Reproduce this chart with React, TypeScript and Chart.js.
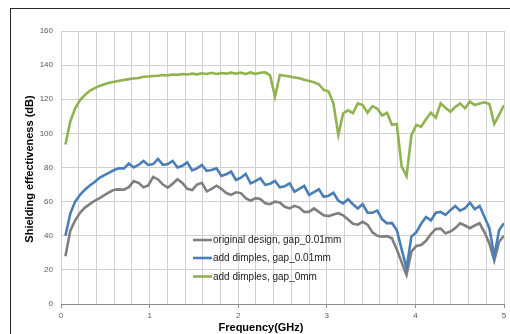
import React, { useEffect, useRef } from "react";
import { Chart, registerables } from "chart.js";

Chart.register(...registerables);

const frequencyGHz = [
  0.05, 0.105, 0.16, 0.215, 0.27, 0.325, 0.38, 0.435, 0.49, 0.545,
  0.6, 0.655, 0.71, 0.765, 0.82, 0.875, 0.93, 0.985, 1.04, 1.095,
  1.15, 1.205, 1.26, 1.315, 1.37, 1.425, 1.48, 1.535, 1.59, 1.645,
  1.7, 1.755, 1.81, 1.865, 1.92, 1.975, 2.03, 2.085, 2.14, 2.195,
  2.25, 2.305, 2.36, 2.415, 2.47, 2.525, 2.58, 2.635, 2.69, 2.745,
  2.8, 2.855, 2.91, 2.965, 3.02, 3.075, 3.13, 3.185, 3.24, 3.295,
  3.35, 3.405, 3.46, 3.515, 3.57, 3.625, 3.68, 3.735, 3.79, 3.845,
  3.9, 3.955, 4.01, 4.065, 4.12, 4.175, 4.23, 4.285, 4.34, 4.395,
  4.45, 4.505, 4.56, 4.615, 4.67, 4.725, 4.78, 4.835, 4.89, 4.945,
  5.0,
];

const originalGap001 = [
  28, 43, 49, 53.5, 56.5, 58.5, 60.5, 62, 63.8, 65.5,
  67, 67.2, 67, 68.5, 72, 71, 68.4, 69.5, 74.5, 73,
  70, 68.2, 70.5, 73.1, 71, 67.5, 66.8, 70, 71, 66,
  67.5, 69.3, 67.5, 65, 64, 65.5, 65, 62, 60.5, 62,
  61.5, 59, 58.5, 60, 59.5, 57, 56, 57.5, 56.5, 54,
  54, 56, 54, 52, 51.5, 52.5, 53.2, 52, 49.5, 47,
  46.5, 48.2, 46.5, 42, 40, 39.5, 39.8, 38.5, 32, 24.5,
  17, 30.7, 34, 34.6, 37, 41, 44, 44.2, 41.4, 42.5,
  44.5, 47.3, 46, 44.4, 46, 47.3, 42, 35.5, 25.5, 36.5,
  40,
];

const dimplesGap001 = [
  40, 53, 60, 64, 67, 69.5, 71.5, 74, 75.5, 77,
  78.5, 79.5, 79.5, 82.3, 80, 81.5, 83.8, 81.5, 82, 85,
  81.5, 82, 83.8, 80, 81, 83, 78.3, 79.5, 81.5, 78,
  78.5, 79.5, 75, 76, 77.6, 72.7, 74, 76.2, 70.7, 72,
  73.7, 69.8, 70.5, 72.1, 68.4, 69, 70.7, 65.8, 67.5, 69.2,
  63.9, 65.5, 67.2, 62.9, 63.5, 65.2, 60.5, 59, 61.4, 58.5,
  56, 58.6, 53.5, 53.5, 54.7, 49.6, 47.3, 47.5, 43.4, 32,
  21, 39.5, 42, 47, 51, 49, 53.5, 54, 52.2, 55,
  57.4, 54.7, 56.1, 59.4, 55.5, 57.5, 51, 44.4, 28, 43.4,
  47.3,
];

const dimplesGap0 = [
  93.5, 107, 114.7, 119.5, 122.5, 125, 126.5, 127.8, 128.8, 129.7,
  130.3, 130.8, 131.3, 131.8, 132.2, 132.5, 133.2, 133.3, 133.6, 133.8,
  134.2, 134, 134.5, 134.3, 134.8, 134.5, 135, 134.6, 135.2, 134.8,
  135.5, 134.8, 135.4, 135, 135.6, 135, 135.6, 134.8, 135.7, 134.8,
  135.5, 135.8, 134, 121.5, 134.2, 133.8, 133.3, 132.8, 132.3, 131.5,
  130.7, 130, 128.8, 125.5, 124.5, 117.6, 99, 111.8, 113.5, 111.8,
  117.6, 116.6, 112.1, 116, 114.5, 110.5, 112, 105, 105.5, 80.5,
  75, 99, 104.9, 103.9, 108.3, 112.1, 109.2, 117.6, 115, 112.7,
  115.5, 117.6, 114.7, 118.6, 116.6, 117.5, 118.2, 117.2, 105.5, 110.8,
  116.6,
];

const seriesLabels = [
  "original design, gap_0.01mm",
  "add dimples, gap_0.01mm",
  "add dimples, gap_0mm",
];
const seriesColors = ["#7f7f7f", "#4a7ebb", "#8fb34f"];
const xTitle = "Frequency(GHz)";
const yTitle = "Shielding effectiveness (dB)";

const FONT = "'Liberation Sans', Arial, sans-serif";

const isInt = (v: number) => Math.abs(v - Math.round(v)) < 1e-6;

const decorPlugin = {
  id: "decor",
  beforeDraw(chart: any) {
    const ctx = chart.ctx;
    ctx.save();
    ctx.fillStyle = "#ffffff";
    ctx.fillRect(0, 0, chart.width, chart.height);
    ctx.strokeStyle = "#262626";
    ctx.lineWidth = 1;
    ctx.strokeRect(10.5, 8.5, 1000, 1000);
    ctx.restore();
  },
  afterDraw(chart: any) {
    const ctx = chart.ctx;
    const area = chart.chartArea;
    ctx.save();
    // axis titles
    ctx.fillStyle = "#000000";
    ctx.font = `bold 11px ${FONT}`;
    ctx.textAlign = "center";
    ctx.textBaseline = "alphabetic";
    ctx.fillText(xTitle, 261, 331);
    ctx.translate(33, (area.top + area.bottom) / 2 + 1.5);
    ctx.rotate(-Math.PI / 2);
    ctx.fillText(yTitle, 0, 0);
    ctx.restore();

    // legend
    ctx.save();
    const rowY = [240, 258, 276.5];
    ctx.font = `10px ${FONT}`;
    ctx.textAlign = "left";
    ctx.textBaseline = "middle";
    seriesLabels.forEach((label, i) => {
      ctx.strokeStyle = seriesColors[i];
      ctx.lineWidth = 2.6;
      ctx.beginPath();
      ctx.moveTo(193, rowY[i]);
      ctx.lineTo(212, rowY[i]);
      ctx.stroke();
      ctx.fillStyle = "#1a1a1a";
      ctx.fillText(label, 213, rowY[i] + 0.5);
    });
    ctx.restore();
  },
};

export default function App() {
  const canvasRef = useRef<HTMLCanvasElement | null>(null);

  useEffect(() => {
    if (!canvasRef.current) return;
    const series = [originalGap001, dimplesGap001, dimplesGap0];
    const chart = new Chart(canvasRef.current, {
      type: "line",
      data: {
        datasets: series.map((vals, i) => ({
          label: seriesLabels[i],
          data: vals.map((v, k) => ({ x: frequencyGHz[k], y: v })),
          borderColor: seriesColors[i],
          backgroundColor: seriesColors[i],
          borderWidth: 2.6,
          pointRadius: 0,
          tension: 0,
          fill: false,
          order: 3 - i,
        })),
      },
      options: {
        animation: false,
        responsive: false,
        devicePixelRatio: 1,
        layout: { padding: { top: 31, right: 6, left: 0, bottom: 0 } },
        plugins: {
          legend: { display: false },
          tooltip: { enabled: false },
        },
        scales: {
          x: {
            type: "linear",
            min: 0,
            max: 5,
            afterFit: (s: any) => {
              s.height = 30;
            },
            ticks: {
              stepSize: 0.2,
              autoSkip: false,
              maxRotation: 0,
              padding: 3,
              color: "#595959",
              font: { family: FONT, size: 8 },
              callback: (v: any) => (isInt(Number(v)) ? String(Math.round(Number(v))) : ""),
            },
            grid: {
              color: "#d0d0d0",
              lineWidth: 1,
              drawTicks: true,
              tickLength: 4,
              tickColor: (c: any) => (c.tick && isInt(c.tick.value) ? "#8c8c8c" : "rgba(0,0,0,0)"),
            },
            border: { display: true, color: "#8c8c8c", width: 1 },
          },
          y: {
            min: 0,
            max: 160,
            afterFit: (s: any) => {
              s.width = 61;
            },
            ticks: {
              stepSize: 20,
              padding: 8,
              color: "#595959",
              font: { family: FONT, size: 8 },
            },
            grid: { color: "#d0d0d0", lineWidth: 1, drawTicks: false },
            border: { display: false },
          },
        },
      },
      plugins: [decorPlugin],
    });
    return () => chart.destroy();
  }, []);

  return (
    <div style={{ position: "fixed", left: 0, top: 0, width: 510, height: 334, background: "#fff" }}>
      <canvas ref={canvasRef} width={510} height={334} style={{ width: 510, height: 334, display: "block" }} />
    </div>
  );
}
